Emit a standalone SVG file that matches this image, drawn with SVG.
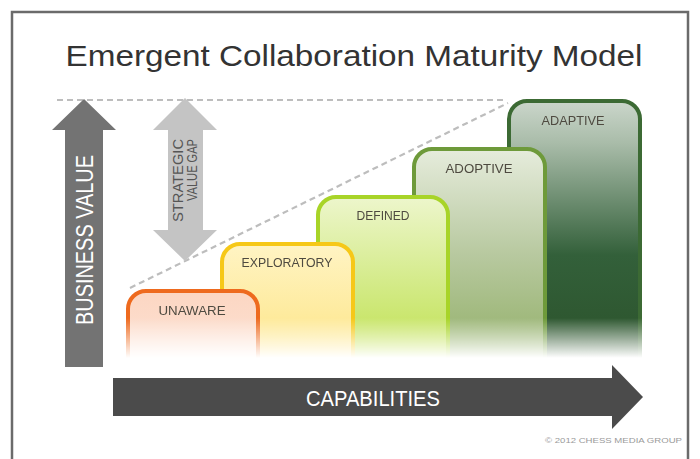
<svg xmlns="http://www.w3.org/2000/svg" width="700" height="459" viewBox="0 0 700 459">
<defs>
<style>
.lbl{font-family:"Liberation Sans","DejaVu Sans",sans-serif;font-size:13px;fill:#4e4a40;text-anchor:middle}
.guide{stroke:#bdbdbd;stroke-width:2.2;stroke-dasharray:6 4;fill:none}
.box{stroke-width:4}
</style>
<linearGradient id="gAdapt" x1="0" y1="0" x2="0" y2="1">
<stop offset="0" stop-color="#cbd6cb"/><stop offset="0.15" stop-color="#a9bca9"/><stop offset="0.55" stop-color="#33603a"/><stop offset="1" stop-color="#2a5028"/>
</linearGradient>
<linearGradient id="gAdopt" x1="0" y1="0" x2="0" y2="1">
<stop offset="0" stop-color="#e6ecdc"/><stop offset="0.45" stop-color="#b8c9a0"/><stop offset="1" stop-color="#8aaa5c"/>
</linearGradient>
<linearGradient id="gDef" x1="0" y1="0" x2="0" y2="1">
<stop offset="0" stop-color="#edf6cc"/><stop offset="0.5" stop-color="#d2ea84"/><stop offset="1" stop-color="#bade40"/>
</linearGradient>
<linearGradient id="gExp" x1="0" y1="0" x2="0" y2="1">
<stop offset="0" stop-color="#fff4c4"/><stop offset="1" stop-color="#fde27a"/>
</linearGradient>
<linearGradient id="gUna" x1="0" y1="0" x2="0" y2="1">
<stop offset="0" stop-color="#fcd6c2"/><stop offset="1" stop-color="#fde6da"/>
</linearGradient>
<linearGradient id="fadeGrad" gradientUnits="userSpaceOnUse" x1="0" y1="318" x2="0" y2="358">
<stop offset="0" stop-color="#fff"/><stop offset="1" stop-color="#000"/>
</linearGradient>
<mask id="fade" maskUnits="userSpaceOnUse" x="0" y="0" width="700" height="459">
<rect x="0" y="0" width="700" height="459" fill="url(#fadeGrad)"/>
</mask>
</defs>
<rect x="0" y="0" width="700" height="459" fill="#fff"/>
<rect x="12" y="12" width="676" height="470" fill="#fff" stroke="#6b6b6b" stroke-width="2.5"/>
<text x="354" y="66" font-family="'Liberation Sans','DejaVu Sans',sans-serif" font-size="30" fill="#333" text-anchor="middle" textLength="577" lengthAdjust="spacingAndGlyphs">Emergent Collaboration Maturity Model</text>

<g id="guides">
<line class="guide" x1="57" y1="100" x2="505" y2="100"/>
<line class="guide" x1="130" y1="288" x2="508" y2="103"/>
</g>

<g id="business-value">
<polygon points="84,99 116,130 103,130 103,367 65,367 65,130 52,130" fill="#737373"/>
<text transform="translate(93,240) rotate(-90)" font-family="'Liberation Sans','DejaVu Sans',sans-serif" font-size="23" fill="#fff" text-anchor="middle" textLength="170" lengthAdjust="spacingAndGlyphs">BUSINESS VALUE</text>
</g>

<g id="strategic-value-gap">
<polygon points="185,98 217,130 203,130 203,230 217,230 185,261 153,230 168,230 168,130 153,130" fill="#c4c4c4"/>
<text transform="translate(183,139) rotate(-90)" font-family="'Liberation Sans','DejaVu Sans',sans-serif" font-size="14" fill="#555" text-anchor="end" textLength="83" lengthAdjust="spacingAndGlyphs">STRATEGIC</text>
<text transform="translate(197,139) rotate(-90)" font-family="'Liberation Sans','DejaVu Sans',sans-serif" font-size="14" fill="#555" text-anchor="end" textLength="62" lengthAdjust="spacingAndGlyphs">VALUE GAP</text>
</g>

<g id="stages" mask="url(#fade)">
<g id="adaptive">
<rect class="box" x="509" y="101" width="131" height="280" rx="18" fill="url(#gAdapt)" stroke="#3c6a34"/>
<text class="lbl" x="573" y="125" textLength="63" lengthAdjust="spacingAndGlyphs">ADAPTIVE</text>
</g>
<g id="adoptive">
<rect class="box" x="414" y="149" width="131" height="232" rx="18" fill="url(#gAdopt)" stroke="#6e9a3a"/>
<text class="lbl" x="479" y="173" textLength="67" lengthAdjust="spacingAndGlyphs">ADOPTIVE</text>
</g>
<g id="defined">
<rect class="box" x="318" y="197" width="130" height="184" rx="18" fill="url(#gDef)" stroke="#a8d428"/>
<text class="lbl" x="383" y="220" textLength="53" lengthAdjust="spacingAndGlyphs">DEFINED</text>
</g>
<g id="exploratory">
<rect class="box" x="222" y="244" width="131" height="137" rx="18" fill="url(#gExp)" stroke="#f6c818"/>
<text class="lbl" x="287" y="267" textLength="91" lengthAdjust="spacingAndGlyphs">EXPLORATORY</text>
</g>
<g id="unaware">
<rect class="box" x="128" y="291" width="130" height="90" rx="18" fill="url(#gUna)" stroke="#ee6a1e"/>
<text class="lbl" x="192" y="315" textLength="67" lengthAdjust="spacingAndGlyphs">UNAWARE</text>
</g>
</g>

<g id="capabilities">
<polygon points="113,378 612,378 612,365 643,397 612,429 612,416 113,416" fill="#4b4b4b"/>
<text x="373" y="406" font-family="'Liberation Sans','DejaVu Sans',sans-serif" font-size="22" fill="#fff" text-anchor="middle" textLength="134" lengthAdjust="spacingAndGlyphs">CAPABILITIES</text>
</g>

<text x="682" y="443" font-family="'Liberation Sans','DejaVu Sans',sans-serif" font-size="7.5" fill="#9a9a9a" text-anchor="end" textLength="137" lengthAdjust="spacingAndGlyphs">© 2012 CHESS MEDIA GROUP</text>
</svg>
